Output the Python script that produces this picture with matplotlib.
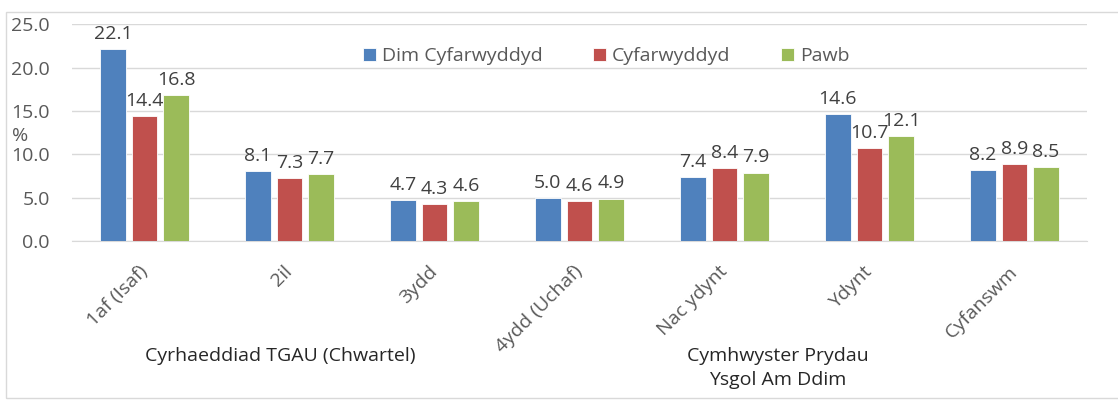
import matplotlib
matplotlib.use("Agg")
import matplotlib.pyplot as plt
from matplotlib.patches import Rectangle
import numpy as np

categories = ["1af (Isaf)", "2il", "3ydd", "4ydd (Uchaf)", "Nac ydynt", "Ydynt", "Cyfanswm"]
series_names = ["Dim Cyfarwyddyd", "Cyfarwyddyd", "Pawb"]
dim_cyf = [22.1, 8.1, 4.7, 5.0, 7.4, 14.6, 8.2]
cyf = [14.4, 7.3, 4.3, 4.6, 8.4, 10.7, 8.9]
pawb = [16.8, 7.7, 4.6, 4.9, 7.9, 12.1, 8.5]
colors = ["#4F81BD", "#C0504D", "#9BBB59"]
group_labels = ["Cyrhaeddiad TGAU (Chwartel)", "Cymhwyster Prydau\nYsgol Am Ddim"]
yticks = [0, 5, 10, 15, 20, 25]

plt.rcParams['font.family'] = ['Open Sans', 'DejaVu Sans']
W, H = 1118, 401
FS = 14
fig = plt.figure(figsize=(W/100, H/100), dpi=100)
ax = fig.add_axes([72/W, 1-241/H, (1087-72)/W, (241-24.3)/H])

x = np.arange(len(categories))
width = 0.175
step = 0.218
txtc = "#595959"
for i, (vals, name) in enumerate(zip([dim_cyf, cyf, pawb], series_names)):
    xs = x + (i-1)*step
    ax.bar(xs, vals, width, color=colors[i], label=name, edgecolor="white", linewidth=0.6, zorder=3)
    for xi, v in zip(xs, vals):
        ax.text(xi, v + 0.7, f"{v:.1f}", ha="center", va="bottom", fontsize=FS, color="#404040", zorder=4)

ax.set_xlim(-0.5, len(categories)-0.5)
ax.set_ylim(0, 25)
ax.set_yticks(yticks)
ax.set_yticklabels([f"{t:.1f}" for t in yticks], fontsize=FS, color=txtc)
ax.yaxis.grid(True, color="#D9D9D9", linewidth=1, zorder=0)
ax.set_axisbelow(True)
for s in ["top", "right", "left"]:
    ax.spines[s].set_visible(False)
ax.spines["bottom"].set_color("#D9D9D9")
ax.tick_params(axis="both", length=0)
ax.tick_params(axis="y", pad=16)
ax.set_xticks(x)
ax.set_xticklabels(categories, rotation=45, ha="right", va="center", rotation_mode="anchor", fontsize=FS, color=txtc)
ax.tick_params(axis="x", pad=20)

fig.text(20/W, 1-136/H, "%", fontsize=FS, color=txtc, ha="center", va="center")
fig.text(280/W, 1-356/H, group_labels[0], fontsize=FS, color="#262626", ha="center", va="center")
fig.text(778/W, 1-368/H, group_labels[1], fontsize=FS, color="#262626", ha="center", va="center", linespacing=1.45)

leg = ax.legend(loc="center", bbox_to_anchor=(606/W, 1-56/H), bbox_transform=fig.transFigure,
                ncol=3, frameon=False, fontsize=FS, handlelength=0.67, handleheight=0.67,
                handletextpad=0.3, columnspacing=2.6, borderpad=0)
for t in leg.get_texts():
    t.set_color(txtc)

fig.add_artist(Rectangle((6/W, 3/H), 1.2, 1-15/H, transform=fig.transFigure, fill=False,
                         edgecolor="#D9D9D9", linewidth=1))

fig.savefig("out.png", dpi=100)
